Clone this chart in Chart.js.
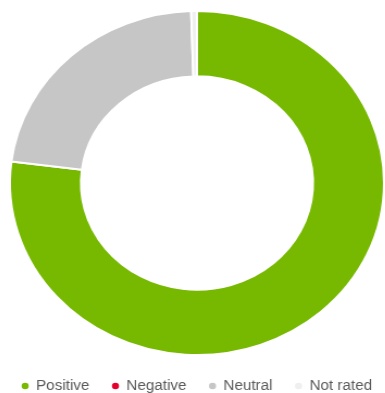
<!DOCTYPE html>
<html>
<head>
<meta charset="utf-8">
<script src="https://cdn.jsdelivr.net/npm/chart.js@4.4.1/dist/chart.umd.min.js"></script>
<style>
    html, body { margin: 0; padding: 0; background: #fff; overflow: hidden; }
    /* the reference is stretched a little horizontally */
    #wrap { width: 372px; height: 393px; transform: translateX(-5.3px) scaleX(1.0876); transform-origin: 0 0; }
</style>
</head>
<body>
<div id="wrap"><canvas id="chart"></canvas></div>
<script>
// --- DATA ---
const labels = ['Positive', 'Negative', 'Neutral', 'Not rated'];
const values = [77, 0, 22.5, 0.5];
const colors = ['#76b900', '#e4002b', '#c6c6c6', '#efefef'];

const ctx = document.getElementById('chart').getContext('2d');
new Chart(ctx, {
    type: 'doughnut',
    data: {
        labels: labels,
        datasets: [{
            data: values,
            backgroundColor: colors,
            borderColor: '#ffffff',
            borderWidth: 2,
            radius: 172,
            cutout: '62%'
        }]
    },
    options: {
        responsive: true,
        maintainAspectRatio: false,
        animation: false,
        layout: { padding: { top: 8, left: 0, right: 0, bottom: 0 } },
        plugins: {
            tooltip: { enabled: false },
            legend: {
                position: 'bottom',
                maxHeight: 35,
                labels: {
                    usePointStyle: true,
                    pointStyle: 'circle',
                    boxWidth: 6,
                    boxHeight: 6,
                    padding: 21,
                    color: '#5a5a5a',
                    font: { family: 'Liberation Sans, Arial, sans-serif', size: 14 }
                }
            }
        }
    }
});
</script>
</body>
</html>
